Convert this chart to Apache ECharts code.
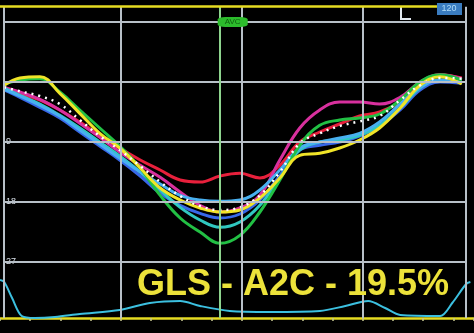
<!DOCTYPE html>
<html>
<head>
<meta charset="utf-8">
<script src="https://cdn.jsdelivr.net/npm/echarts@6/dist/echarts.min.js"></script>
<style>
  html, body { margin: 0; padding: 0; background: #000; }
  #chart { width: 474px; height: 333px; }
</style>
</head>
<body>
<div id="chart"></div>
<script>
// frame times in ms
const times = [7, 33, 66, 99, 132, 165, 198, 232, 265, 298, 331, 364, 397, 430, 463, 496, 529, 562, 595, 628, 662, 695, 728, 764];

// segmental longitudinal strain (%)
const red     = [-1.2, -1.8, -2.7, -4.2, -6.0, -8.0, -9.9, -11.7, -13.2, -14.7, -15.0, -14.1, -13.7, -14.4, -12.5, -9.0, -7.5, -6.3, -5.1, -4.5, -3.0, -0.5, 1.1, 0.6];
const magenta = [-0.8, -1.5, -2.6, -4.2, -6.2, -8.3, -10.5, -12.5, -14.3, -16.5, -18.5, -19.5, -18.9, -17.0, -11.7, -6.9, -4.2, -3.0, -3.0, -3.3, -2.3, 0, 1.1, 0.5];
const yellow  = [-0.5, 0.6, 0.8, -1.7, -4.7, -7.7, -9.9, -12.9, -15.9, -17.7, -18.9, -19.5, -19.2, -17.4, -14.4, -11.0, -10.7, -9.9, -8.7, -6.9, -3.9, -0.5, 0.8, -0.3];
const green   = [-0.3, 0.3, 0.5, -1.5, -4.2, -6.9, -9.6, -12.9, -17.0, -20.4, -22.5, -24.2, -23.0, -19.5, -14.7, -9.5, -6.5, -5.7, -5.4, -4.8, -2.7, 0, 1.1, 0.3];
const teal    = [-0.9, -2.0, -3.3, -5.0, -6.9, -9.0, -11.1, -13.5, -16.2, -18.8, -20.7, -21.8, -21.0, -18.5, -14.4, -10.2, -9.0, -8.7, -8.0, -6.5, -3.9, -0.9, 0.3, 0];
const blue    = [-1.2, -2.3, -3.8, -5.4, -7.5, -9.6, -11.7, -14.1, -16.7, -18.5, -19.7, -20.4, -19.8, -17.7, -14.0, -10.2, -9.5, -9.0, -8.1, -6.6, -4.2, -1.2, 0, -0.2];
const sky     = [-1.1, -2.1, -3.5, -5.1, -7.2, -9.3, -11.4, -13.5, -15.3, -17.0, -17.7, -17.9, -17.7, -16.2, -13.2, -9.9, -9.0, -8.4, -7.7, -6.0, -3.3, -0.8, 0.3, 0];
const average = [-0.8, -1.4, -2.1, -3.3, -5.7, -8.1, -10.2, -12.6, -15.0, -17.1, -18.6, -19.2, -18.8, -17.0, -13.5, -9.2, -7.7, -6.6, -5.9, -5.1, -2.7, -0.5, 0.6, 0.5];

// lower trace
const stripTimes  = [0, 7, 20, 36, 58, 91, 132, 198, 248, 298, 331, 380, 447, 529, 571, 609, 637, 662, 728, 748, 771, 778];
const stripValues = [38, 36, 20, 2, 0, 1, 4, 8, 15, 17, 12, 7, 6, 7, 12, 17, 10, 3, 2, 15, 34, 36];

// grid
const strainTicks = [9, 0, -9, -18, -27];
const timeLines = [7, 200, 400, 600, 771];
const avcTime = 364;

const chart = echarts.init(document.getElementById('chart'));

const pair = (a, b) => a.map((v, i) => [v, b[i]]);

function curve(name, values, color, z) {
  return {
    name: name,
    type: 'line',
    data: pair(times, values),
    smooth: 0.4,
    showSymbol: false,
    z: z || 3,
    lineStyle: { color: color, width: 3 }
  };
}

const gridLines = [];
strainTicks.forEach(v => {
  gridLines.push([{ coord: [7, v] }, { coord: [771, v] }]);
});
timeLines.forEach(t => {
  gridLines.push([{ coord: [t, 11.3] }, { coord: [t, -35.4] }]);
});

const option = {
  backgroundColor: '#000',
  animation: false,
  title: {
    text: 'GLS - A2C - 19.5%',
    left: 132,
    top: 262,
    textStyle: {
      color: '#ece23a',
      fontSize: 36,
      fontWeight: 'bold',
      fontFamily: 'Liberation Sans'
    }
  },
  grid: [
    { left: 0, right: 8, top: 2, height: 320 },
    { left: 0, right: 0, top: 278, bottom: 15 }
  ],
  xAxis: [
    { type: 'value', min: 0, max: 771, show: false },
    {
      type: 'value', gridIndex: 1, min: 0, max: 784, interval: 50,
      axisLine: { show: true, lineStyle: { color: '#e6dc22', width: 2.5 } },
      axisTick: { show: true, length: 3, lineStyle: { color: '#c8c890', width: 1.5 } },
      axisLabel: { show: false },
      splitLine: { show: false }
    }
  ],
  yAxis: [
    {
      type: 'value', min: -36, max: 12, interval: 9,
      axisLine: { show: false },
      axisTick: { show: false },
      splitLine: { show: false },
      axisLabel: {
        inside: true,
        margin: 5,
        fontSize: 9,
        color: '#d8e0e8',
        backgroundColor: '#000',
        padding: [1, 1],
        formatter: v => (v < 0 && v > -36 ? String(-v) : '')
      }
    },
    { type: 'value', gridIndex: 1, min: 0, max: 40, show: false }
  ],
  graphic: [
    { type: 'rect', shape: { x: 437, y: 3, width: 25, height: 12 }, style: { fill: '#3a7cc0' } },
    { type: 'text', x: 449, y: 9, style: { text: '120', fill: '#b0dcf8', fontSize: 9, align: 'center', verticalAlign: 'middle' } },
    { type: 'polyline', shape: { points: [[401, 7], [401, 19], [411, 19]] }, style: { stroke: '#e0e8f0', lineWidth: 2, fill: null } }
  ],
  series: [
    {
      type: 'line',
      data: [],
      z: 1,
      silent: true,
      markLine: {
        silent: true,
        symbol: 'none',
        label: { show: false },
        lineStyle: { color: '#b8c0c8', width: 2, type: 'solid' },
        data: gridLines
      }
    },
    {
      type: 'line',
      data: [],
      z: 2,
      silent: true,
      markLine: {
        silent: true,
        symbol: 'none',
        label: { show: false },
        data: [
          [{ coord: [avcTime, 11.3], lineStyle: { color: '#8ed48e', width: 2, type: 'solid' } }, { coord: [avcTime, -35.4] }],
          [{ coord: [0, 11.3], lineStyle: { color: '#e6dc22', width: 2.5, type: 'solid' } }, { coord: [723, 11.3] }]
        ]
      },
      markPoint: {
        silent: true,
        data: [{
          coord: [385, 9],
          symbol: 'roundRect',
          symbolSize: [30, 10],
          itemStyle: { color: '#2cbc2c' },
          label: { show: true, formatter: 'AVC', fontSize: 8, color: '#0e5e0e' }
        }]
      }
    },
    curve('Red', red, '#e8203c'),
    curve('Magenta', magenta, '#d8309e'),
    curve('Blue', blue, '#3868e8'),
    curve('Teal', teal, '#30c8c0'),
    curve('Sky', sky, '#48b0f0'),
    curve('Green', green, '#22c044'),
    curve('Yellow', yellow, '#f0e428'),
    {
      name: 'Average',
      type: 'line',
      data: pair(times, average),
      smooth: 0.4,
      showSymbol: false,
      z: 4,
      lineStyle: { color: '#ffffff', width: 2.5, type: [2, 5] }
    },
    {
      name: 'Trace',
      type: 'line',
      xAxisIndex: 1,
      yAxisIndex: 1,
      data: pair(stripTimes, stripValues),
      smooth: 0.3,
      showSymbol: false,
      z: 3,
      lineStyle: { color: '#3cc0e0', width: 2 }
    }
  ]
};

chart.setOption(option);
</script>
</body>
</html>
